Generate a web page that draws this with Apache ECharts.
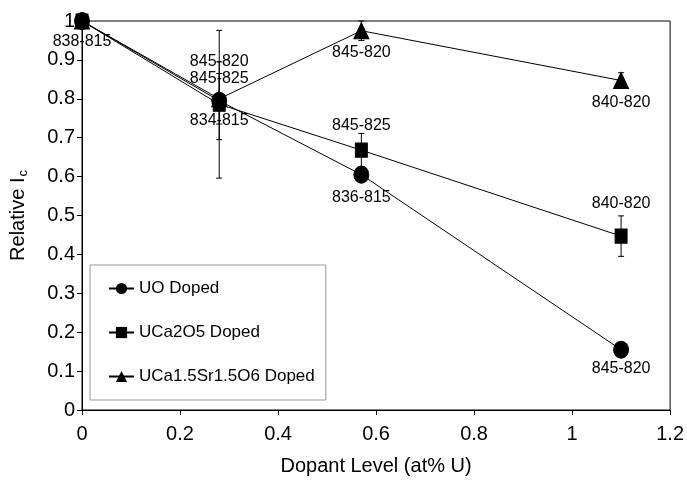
<!DOCTYPE html>
<html>
<head>
<meta charset="utf-8">
<script src="https://cdn.jsdelivr.net/npm/echarts@6/dist/echarts.min.js"></script>
<style>
html,body{margin:0;padding:0;background:#fff;}
#c{width:687px;height:482px;}
</style>
</head>
<body>
<div id="c"></div>
<script>
// ---- data ----
const xValues = [0, 0.28, 0.57, 1.1];
const seriesNames = ['UO Doped', 'UCa2O5 Doped', 'UCa1.5Sr1.5O6 Doped'];
const uoValues = [1, 0.795, 0.605, 0.155];
const ca2Values = [1, 0.786, 0.668, 0.447];
const srValues = [1, 0.80, 0.975, 0.847];
const uoErrors = [0, 0.10, 0.01, 0];
const ca2Errors = [0, 0.19, 0.043, 0.052];
const srErrors = [0, 0.065, 0.025, 0.02];
const uoLabels = ['838-815', '834-815', '836-815', '845-820'];
const ca2Labels = ['', '845-825', '845-825', '840-820'];
const srLabels = ['', '845-820', '845-820', '840-820'];
const xTicks = ['0', '0.2', '0.4', '0.6', '0.8', '1', '1.2'];
const yTicks = ['0', '0.1', '0.2', '0.3', '0.4', '0.5', '0.6', '0.7', '0.8', '0.9', '1'];

// ---- styling / layout ----
const FONT = "'Liberation Sans', Arial, Helvetica, sans-serif";
// label placement per series per point: [position, distance]
const uoPlace = [['bottom', 4], ['bottom', 3], ['bottom', 6], ['bottom', 2]];
const ca2Place = [['top', 0], ['top', 10], ['top', 9], ['top', 17]];
const srPlace = [['top', 0], ['top', 21], ['bottom', 5], ['bottom', 6]];

function pts(vals, labels, place) {
  return xValues.map((x, i) => ({
    value: [x, vals[i]],
    label: {
      show: !!labels[i],
      formatter: labels[i],
      position: place[i][0],
      distance: place[i][1]
    }
  }));
}
function errPts(vals, errs) {
  const out = [];
  xValues.forEach((x, i) => { if (errs[i] > 0) out.push([x, vals[i] - errs[i], vals[i] + errs[i]]); });
  return out;
}
function errSeries(vals, errs) {
  return {
    type: 'custom',
    z: 1,
    silent: true,
    data: errPts(vals, errs),
    renderItem: function (params, api) {
      const lo = api.coord([api.value(0), api.value(1)]);
      const hi = api.coord([api.value(0), api.value(2)]);
      const w = 3;
      const st = { stroke: '#000', lineWidth: 1 };
      return {
        type: 'group',
        children: [
          { type: 'line', shape: { x1: lo[0], y1: lo[1], x2: hi[0], y2: hi[1] }, style: st },
          { type: 'line', shape: { x1: lo[0] - w, y1: lo[1], x2: lo[0] + w, y2: lo[1] }, style: st },
          { type: 'line', shape: { x1: hi[0] - w, y1: hi[1], x2: hi[0] + w, y2: hi[1] }, style: st }
        ]
      };
    }
  };
}
function lineSeries(name, vals, labels, place, symbol, size) {
  return {
    name: name,
    type: 'line',
    z: 3,
    symbol: symbol,
    symbolSize: size,
    showAllSymbol: true,
    lineStyle: { color: '#000', width: 1 },
    itemStyle: { color: '#000', borderColor: '#000' },
    label: { color: '#000', fontFamily: FONT, fontSize: 16 },
    emphasis: { disabled: true },
    data: pts(vals, labels, place)
  };
}

const chart = echarts.init(document.getElementById('c'), null, { renderer: 'canvas' });
chart.setOption({
  animation: false,
  backgroundColor: '#fff',
  textStyle: { fontFamily: FONT },
  grid: { left: 81, right: 15, top: 21, bottom: 72, show: true, borderColor: '#000', borderWidth: 1, backgroundColor: 'transparent' },
  legend: {
    orient: 'vertical',
    left: 90,
    top: 265,
    padding: [15, 11, 15, 18],
    itemGap: 27,
    itemWidth: 25,
    itemHeight: 14,
    backgroundColor: '#fff',
    borderColor: '#999',
    borderWidth: 1,
    borderRadius: 0,
    textStyle: { fontFamily: FONT, fontSize: 17, color: '#000' },
    data: seriesNames
  },
  xAxis: {
    type: 'value',
    min: 0, max: 1.2, interval: 0.2,
    name: 'Dopant Level (at% U)',
    nameLocation: 'middle',
    nameGap: 46,
    nameTextStyle: { fontFamily: FONT, fontSize: 20, color: '#000' },
    axisLine: { lineStyle: { color: '#000', width: 1 } },
    axisTick: { show: true, inside: false, length: 5, lineStyle: { color: '#000' } },
    splitLine: { show: false },
    axisLabel: { margin: 14, fontFamily: FONT, fontSize: 20, color: '#000',
      formatter: v => xTicks[Math.round(v / 0.2)] }
  },
  yAxis: {
    type: 'value',
    min: 0, max: 1, interval: 0.1,
    name: '{a|Relative I}{b|c}',
    nameLocation: 'middle',
    nameGap: 52,
    nameTextStyle: {
      color: '#000',
      rich: {
        a: { fontFamily: FONT, fontSize: 20, color: '#000', lineHeight: 24 },
        b: { fontFamily: FONT, fontSize: 13, color: '#000', lineHeight: 24, verticalAlign: 'bottom', padding: [8, 0, 0, 1] }
      }
    },
    axisLine: { show: true, lineStyle: { color: '#000', width: 1 } },
    axisTick: { show: true, inside: false, length: 5, lineStyle: { color: '#000' } },
    splitLine: { show: false },
    axisLabel: { margin: 7, fontFamily: FONT, fontSize: 20, color: '#000',
      formatter: v => yTicks[Math.round(v / 0.1)] }
  },
  series: [
    errSeries(uoValues, uoErrors),
    errSeries(ca2Values, ca2Errors),
    errSeries(srValues, srErrors),
    lineSeries(seriesNames[0], uoValues, uoLabels, uoPlace, 'circle', [15, 17]),
    lineSeries(seriesNames[1], ca2Values, ca2Labels, ca2Place, 'rect', [12, 14]),
    lineSeries(seriesNames[2], srValues, srLabels, srPlace, 'triangle', [15, 16])
  ]
});
</script>
</body>
</html>
